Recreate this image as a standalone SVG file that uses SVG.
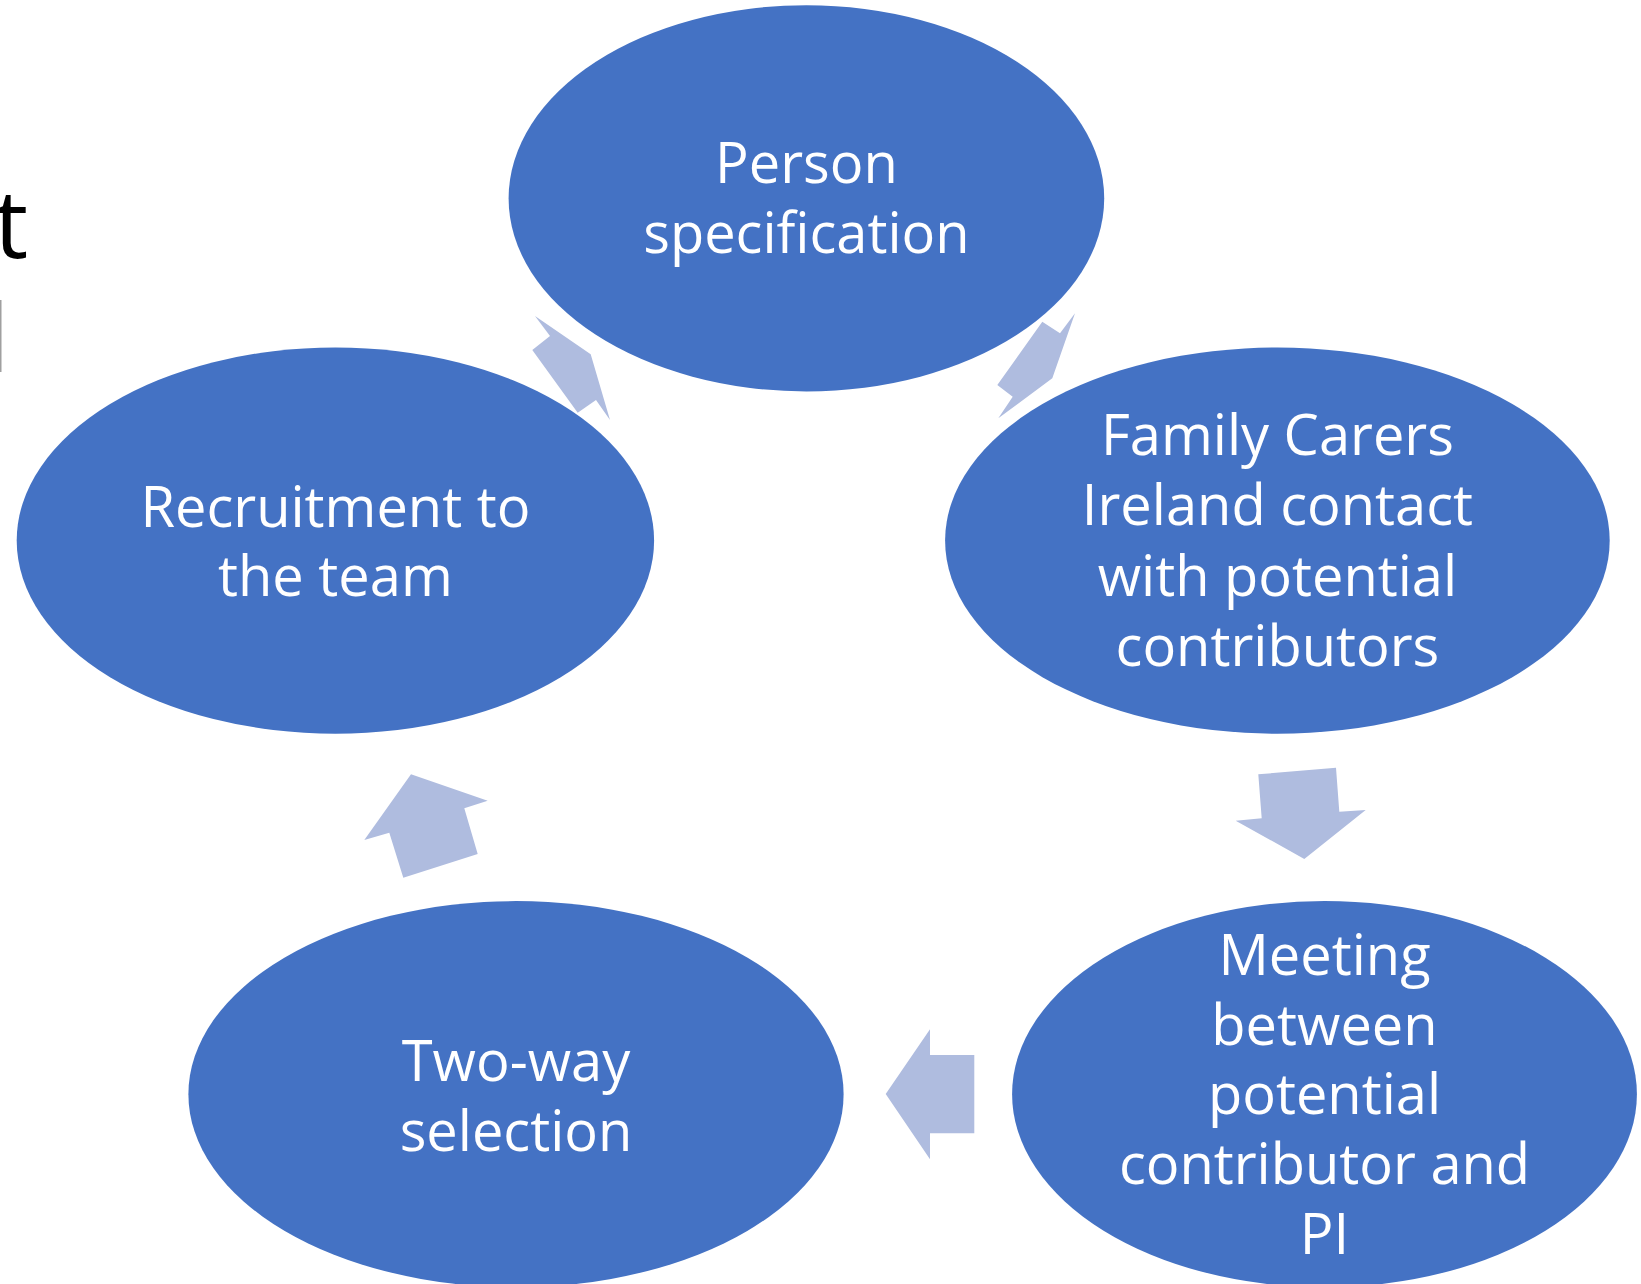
<svg xmlns="http://www.w3.org/2000/svg" width="1641" height="1284" viewBox="0 0 1641 1284">
<style>
.node{fill:#4472C4}
.lbl{fill:#FFFFFF;font-family:"Open Sans","Noto Sans","Liberation Sans",sans-serif;font-size:56px;text-anchor:middle}
.arr{fill:#AFBCDF}
</style>
<rect width="1641" height="1284" fill="#FFFFFF"/>
<text x="-6" y="258" font-family="Open Sans, Liberation Sans, sans-serif" font-size="96" fill="#000000">t</text>
<rect x="0" y="300" width="1.5" height="72" fill="#A0A0A0"/>
<g id="connectors">
<polygon class="arr" points="535,316 550,336 532.3,350 577.7,412.7 596,400 610,420 590.7,354.3"/>
<polygon class="arr" points="1075,313.3 1052.3,378.3 998.3,418.3 1012.7,396.7 997.3,385 1042.3,321.7 1060,333.3"/>
<polygon class="arr" points="1258.3,774.3 1336,767.7 1339.3,811.7 1365.7,810 1304.3,859 1235.7,820.7 1261.7,818.3"/>
<polygon class="arr" points="930,1029.3 930,1055 974.3,1055 974.3,1133.3 930,1133.3 930,1159.3 885.7,1094"/>
<polygon class="arr" points="411,774.3 487.7,800.7 464.3,808.3 477.7,854 403.3,877.7 389.3,832.7 364.3,840"/>
</g>
<g id="person-specification">
<ellipse class="node" cx="806.4" cy="198.3" rx="297.8" ry="193.1"/>
<text class="lbl" x="806.4" y="183">Person</text>
<text class="lbl" x="806.4" y="253">specification</text>
</g>
<g id="family-carers">
<ellipse class="node" cx="1277.4" cy="540.6" rx="332.3" ry="193.1"/>
<text class="lbl" x="1277.4" y="455">Family Carers</text>
<text class="lbl" x="1277.4" y="525">Ireland contact</text>
<text class="lbl" x="1277.4" y="596">with potential</text>
<text class="lbl" x="1277.4" y="666">contributors</text>
</g>
<g id="meeting">
<ellipse class="node" cx="1324.5" cy="1094.2" rx="312.4" ry="193.1"/>
<text class="lbl" x="1324.5" y="975">Meeting</text>
<text class="lbl" x="1324.5" y="1045">between</text>
<text class="lbl" x="1324.5" y="1114">potential</text>
<text class="lbl" x="1324.5" y="1184">contributor and</text>
<text class="lbl" x="1324.5" y="1254">PI</text>
</g>
<g id="two-way-selection">
<ellipse class="node" cx="516" cy="1094.2" rx="327.6" ry="193.1"/>
<text class="lbl" x="516" y="1081">Two-way</text>
<text class="lbl" x="516" y="1151">selection</text>
</g>
<g id="recruitment">
<ellipse class="node" cx="335.4" cy="540.6" rx="318.7" ry="193.1"/>
<text class="lbl" x="335.4" y="527">Recruitment to</text>
<text class="lbl" x="335.4" y="596">the team</text>
</g>
</svg>
